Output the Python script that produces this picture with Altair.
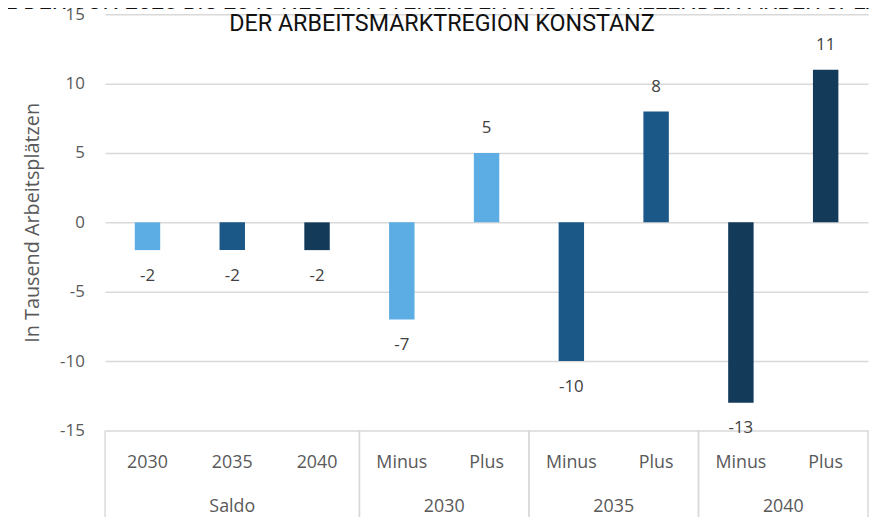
import altair as alt
import pandas as pd

# ---- data ----
groups = ["Saldo", "Saldo", "Saldo", "2030", "2030", "2035", "2035", "2040", "2040"]
subs = ["2030", "2035", "2040", "Minus", "Plus", "Minus", "Plus", "Minus", "Plus"]
years = ["2030", "2035", "2040", "2030", "2030", "2035", "2035", "2040", "2040"]
values = [-2, -2, -2, -7, 5, -10, 8, -13, 11]

y_ticks = [-15, -10, -5, 0, 5, 10, 15]
year_order = ["2030", "2035", "2040"]
year_colors = ["#5BADE3", "#1B5888", "#143A5A"]

title_lines = [
    "SUMME DER VON 2025 BIS 2040 NEU ENTSTEHENDEN UND WEGFALLENDEN ARBEITSPLÄTZE IN",
    "DER ARBEITSMARKTREGION KONSTANZ",
]
y_title = "In Tausend Arbeitsplätzen"

df = pd.DataFrame({"group": groups, "sub": subs, "year": years, "value": values})
df["key"] = df["group"] + "|" + df["sub"]
df["label"] = df["value"].astype(str)
keys = list(df["key"])

W, H = 770, 420
label_font = "Open Sans"
gray = "#595959"
grid_col = "#D9D9D9"

base = alt.Chart(df)

xband = alt.X("key:N", sort=keys, axis=None,
              scale=alt.Scale(domain=keys, paddingInner=0.7, paddingOuter=0.35))
yscale = alt.Scale(domain=[-15, 15], nice=False, zero=False)

bars = base.mark_bar().encode(
    x=xband,
    y=alt.Y("value:Q", scale=yscale,
            axis=alt.Axis(values=y_ticks, grid=True, gridColor=grid_col, gridWidth=1.5,
                          domain=False, ticks=False, labelPadding=21,
                          labelExpr="'' + datum.value",
                          labelFont=label_font, labelFontSize=17, labelColor=gray,
                          title=y_title, titleFont=label_font, titleFontSize=20,
                          titleFontWeight="normal", titleColor=gray,
                          titleX=-73, titleY=210, titleAngle=270,
                          titleAlign="center", titleBaseline="middle")),
    color=alt.Color("year:N", scale=alt.Scale(domain=year_order, range=year_colors),
                    legend=None),
)

pos_labels = base.transform_filter("datum.value > 0").mark_text(
    font=label_font, fontSize=17, color="#404040", baseline="middle", dy=-25
).encode(x=xband, y=alt.Y("value:Q", scale=yscale), text="label:N")

neg_labels = base.transform_filter("datum.value < 0").mark_text(
    font=label_font, fontSize=17, color="#404040", baseline="middle", dy=26
).encode(x=xband, y=alt.Y("value:Q", scale=yscale), text="label:N")

inner_labels = base.mark_text(
    font=label_font, fontSize=18, color=gray, baseline="middle"
).encode(x=xband, y=alt.value(453), text="sub:N")

band_layer = alt.layer(bars, pos_labels, neg_labels, inner_labels)

# group-level layer on a quantitative index scale
xq = alt.Scale(domain=[0.5, 9.5], nice=False, zero=False)
grp = base.transform_window(idx="row_number()").transform_aggregate(
    center="mean(idx)", lo="min(idx)", hi="max(idx)", groupby=["group"]
)

group_labels = grp.mark_text(
    font=label_font, fontSize=18, color=gray, baseline="middle"
).encode(x=alt.X("center:Q", scale=xq, axis=None), y=alt.value(497), text="group:N")

left_rules = grp.transform_calculate(edge="datum.lo - 0.5").mark_rule(
    color=grid_col, strokeWidth=1.5
).encode(x=alt.X("edge:Q", scale=xq, axis=None), y=alt.value(420), y2=alt.value(515))

right_rules = grp.transform_calculate(edge="datum.hi + 0.5").mark_rule(
    color=grid_col, strokeWidth=1.5
).encode(x=alt.X("edge:Q", scale=xq, axis=None), y=alt.value(420), y2=alt.value(515))

group_layer = alt.layer(left_rules, right_rules, group_labels)

chart = alt.layer(band_layer, group_layer).resolve_scale(x="independent").properties(
    width=W,
    height=H,
    autosize=alt.AutoSizeParams(type="none"),
    padding={"left": 98, "top": 4, "right": 5, "bottom": 85},
    title=alt.TitleParams(
        text=title_lines, anchor="middle", font="Roboto", fontSize=23.5,
        fontWeight="normal", color="#111111", lineHeight=22,
        baseline="bottom", offset=0, dx=-45, dy=54,
    ),
).configure_view(stroke=None)

chart.save("out.html", embed_options={"renderer": "svg", "actions": False})
